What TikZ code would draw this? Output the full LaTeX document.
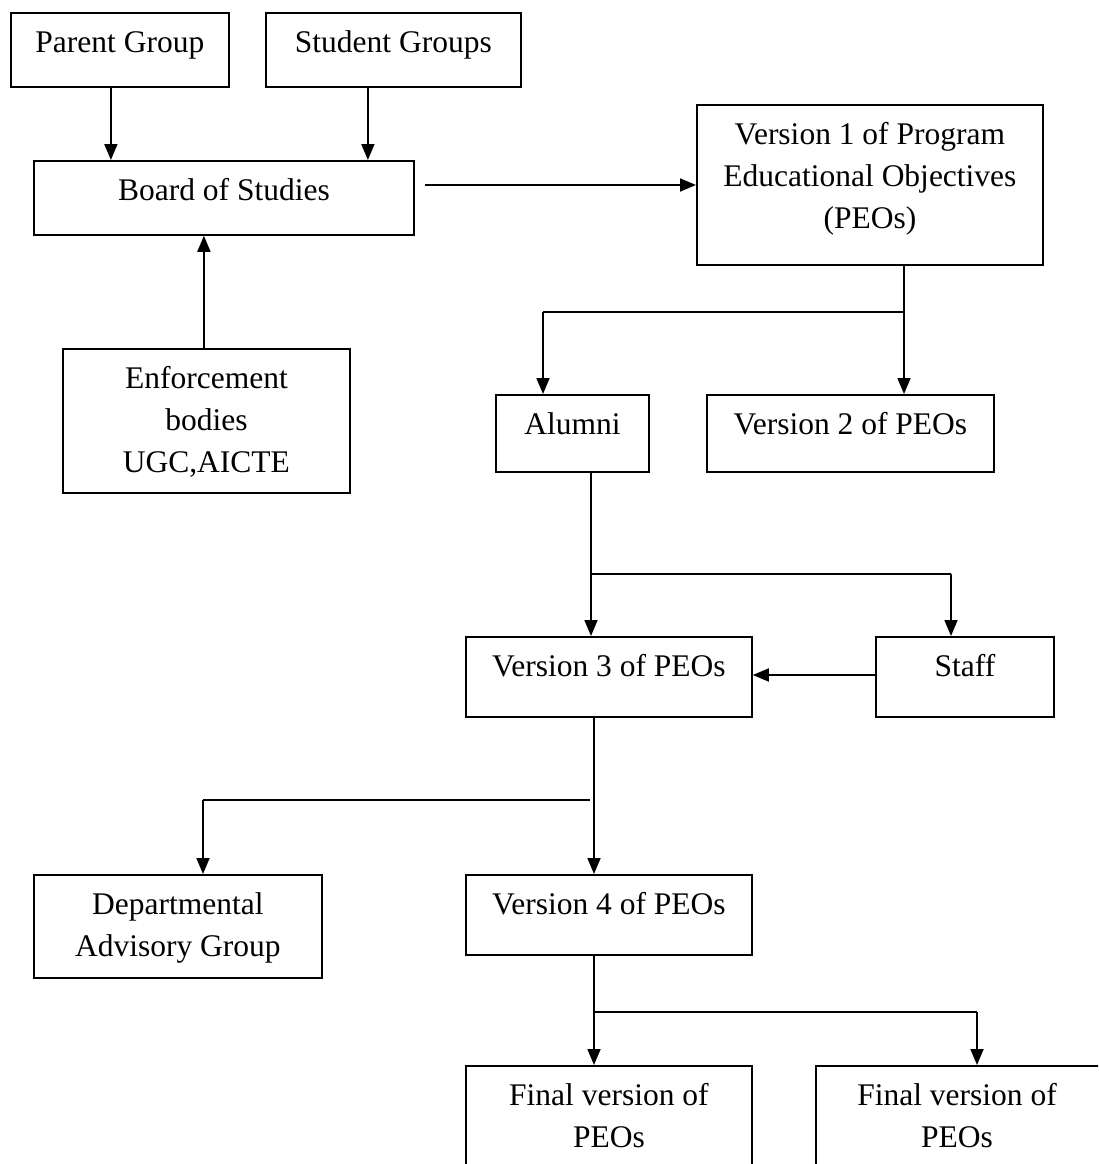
\documentclass[tikz,border=0pt]{standalone}
\usepackage{fontspec}
\setmainfont{Liberation Serif}
\usetikzlibrary{arrows.meta}
\newcommand{\fl}{\rule{0pt}{22pt}}
\begin{document}
\begin{tikzpicture}[x=1pt,y=1pt,
  box/.style={draw, line width=1.8pt, inner sep=0pt, anchor=north west},
  txt/.style={anchor=north, align=center, inner sep=0pt,
    font=\fontsize{31.5}{42}\selectfont},
  link/.style={line width=1.8pt},
  arr/.style={line width=1.8pt, -{Triangle[length=16pt,width=13pt]}}]
\clip (0,0) rectangle (1098,-1164);
\fill[white] (0,0) rectangle (1098,-1164);

% boxes
\node[box, minimum width=218, minimum height=74]  (pg)  at (10,-12)   {};
\node[box, minimum width=255, minimum height=74]  (sg)  at (265,-12)  {};
\node[box, minimum width=380, minimum height=74]  (bos) at (33,-160)  {};
\node[box, minimum width=287, minimum height=144] (enf) at (62,-348)  {};
\node[box, minimum width=346, minimum height=160] (v1)  at (696,-104) {};
\node[box, minimum width=153, minimum height=77]  (al)  at (495,-394) {};
\node[box, minimum width=287, minimum height=77]  (v2)  at (706,-394) {};
\node[box, minimum width=286, minimum height=80]  (v3)  at (465,-636) {};
\node[box, minimum width=178, minimum height=80]  (st)  at (875,-636) {};
\node[box, minimum width=288, minimum height=103] (dag) at (33,-874)  {};
\node[box, minimum width=286, minimum height=80]  (v4)  at (465,-874) {};
\node[box, minimum width=286, minimum height=140] (f1)  at (465,-1065) {};
\node[box, minimum width=300, minimum height=140] (f2)  at (815,-1065) {};

% texts
\node[txt] (tpg)  at ([yshift=-18]pg.north)  {\fl Parent Group};
\node[txt] (tsg)  at ([yshift=-18]sg.north)  {\fl Student Groups};
\node[txt] (tbos) at ([yshift=-18]bos.north) {\fl Board of Studies};
\node[txt] (tenf) at ([yshift=-18]enf.north) {\fl Enforcement\\bodies\\UGC,AICTE};
\node[txt] (tv1)  at ([yshift=-18]v1.north)  {\fl Version 1 of Program\\Educational Objectives\\(PEOs)};
\node[txt] (tal)  at ([yshift=-18]al.north)  {\fl Alumni};
\node[txt] (tv2)  at ([yshift=-18]v2.north)  {\fl Version 2 of PEOs};
\node[txt] (tv3)  at ([yshift=-18]v3.north)  {\fl Version 3 of PEOs};
\node[txt] (tst)  at ([yshift=-18]st.north)  {\fl Staff};
\node[txt] (tdag) at ([yshift=-18]dag.north) {\fl Departmental\\Advisory Group};
\node[txt] (tv4)  at ([yshift=-18]v4.north)  {\fl Version 4 of PEOs};
\node[txt] (tf1)  at ([yshift=-18]f1.north)  {\fl Final version of\\PEOs};
\node[txt] (tf2)  at ([yshift=-18]f2.north west -| 957,0) {\fl Final version of\\PEOs};

% free end of the Board of Studies link and branch points
\coordinate (b0) at (425,-185);
\coordinate (j1) at (904,-312);
\coordinate (j2) at (591,-574);
\coordinate (j3) at (594,-800);
\coordinate (j4) at (594,-1012);

% connectors
\draw[arr] ([xshift=-9]pg.south) -- ([xshift=-9]pg.south |- bos.north);
\draw[arr] ([xshift=-25.5]sg.south) -- ([xshift=-25.5]sg.south |- bos.north);
\draw[arr] ([xshift=-2.5]enf.north) -- ([xshift=-2.5]enf.north |- bos.south);
\draw[arr] (b0) -- (b0 -| v1.west);

\draw[link] (j1 |- v1.south) -- (j1);
\draw[link] (j1) -- (543,-312);
\draw[arr] (543,-312) -- (543,0 |- al.north);
\draw[arr] (j1) -- (j1 |- v2.north);

\draw[link] (j2 |- al.south) -- (j2);
\draw[link] (j2) -- (951,-574);
\draw[arr] (951,-574) -- (951,0 |- st.north);
\draw[arr] (j2) -- (j2 |- v3.north);
\draw[arr] (st.west |- 0,-675) -- (v3.east |- 0,-675);

\draw[link] (j3 |- v3.south) -- (j3);
\draw[link] (590,-800) -- (203,-800);
\draw[arr] (203,-800) -- (203,0 |- dag.north);
\draw[arr] (j3) -- (j3 |- v4.north);

\draw[link] (j4 |- v4.south) -- (j4);
\draw[link] (j4) -- (977,-1012);
\draw[arr] (977,-1012) -- (977,0 |- f2.north);
\draw[arr] (j4) -- (j4 |- f1.north);
\end{tikzpicture}
\end{document}
